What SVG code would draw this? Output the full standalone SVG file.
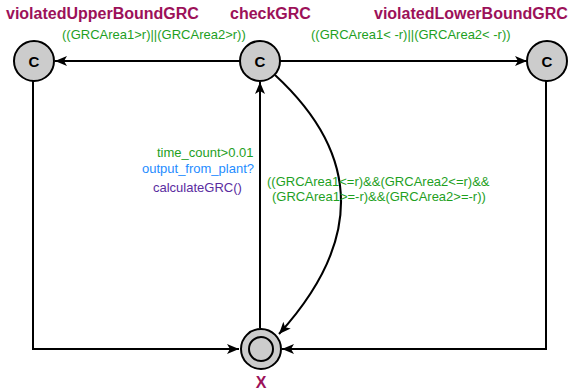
<svg xmlns="http://www.w3.org/2000/svg" width="569" height="390" viewBox="0 0 569 390">
  <style>
    .loc { fill: #cccccc; stroke: #000; stroke-width: 2; }
    .lbl { font-family: "Liberation Sans", Arial, sans-serif; font-weight: bold; font-size: 15px; fill: #000; text-anchor: middle; }
    .name { font-family: "Liberation Sans", Arial, sans-serif; font-weight: bold; font-size: 16px; fill: #9c1159; }
    .edge { fill: none; stroke: #000; stroke-width: 2; }
    .guard { font-family: "Liberation Sans", Arial, sans-serif; font-size: 13px; fill: #1ea01e; }
    .sync { font-family: "Liberation Sans", Arial, sans-serif; font-size: 13px; fill: #1e8cff; }
    .upd { font-family: "Liberation Sans", Arial, sans-serif; font-size: 13px; fill: #5a2ca0; }
  </style>
  <defs>
    <marker id="arrow" markerUnits="userSpaceOnUse" markerWidth="14" markerHeight="12" refX="12" refY="5" orient="auto">
      <path d="M0,0 L12,5 L0,10 L3,5 Z" fill="#000"/>
    </marker>
  </defs>
  <rect width="569" height="390" fill="#fff"/>

  <!-- transitions -->
  <g id="edges">
    <path class="edge" d="M240,61 L55,61" marker-end="url(#arrow)"/>
    <path class="edge" d="M280,61 L527,61" marker-end="url(#arrow)"/>
    <path class="edge" d="M260,328 L260,82" marker-end="url(#arrow)"/>
    <path class="edge" d="M275,75 Q405,195 279,334" marker-end="url(#arrow)"/>
    <path class="edge" d="M33,81 L33,349 L239,349" marker-end="url(#arrow)"/>
    <path class="edge" d="M546,81 L546,349 L282,349" marker-end="url(#arrow)"/>

    <text class="guard" x="62" y="39">((GRCArea1&gt;r)||(GRCArea2&gt;r))</text>
    <text class="guard" x="311" y="39">((GRCArea1&lt; -r)||(GRCArea2&lt; -r))</text>
    <text class="guard" x="157" y="157">time_count&gt;0.01</text>
    <text class="sync" x="142" y="173">output_from_plant?</text>
    <text class="upd" x="153" y="192">calculateGRC()</text>
    <text class="guard" x="267" y="186">((GRCArea1&lt;=r)&amp;&amp;(GRCArea2&lt;=r)&amp;&amp;</text>
    <text class="guard" x="272" y="201">(GRCArea1&gt;=-r)&amp;&amp;(GRCArea2&gt;=-r))</text>
  </g>

  <!-- locations -->
  <g id="violatedUpperBoundGRC">
    <circle class="loc" cx="34" cy="61" r="20"/>
    <text class="lbl" x="34" y="67">C</text>
    <text class="name" x="6" y="19">violatedUpperBoundGRC</text>
  </g>
  <g id="checkGRC">
    <circle class="loc" cx="260" cy="61" r="20"/>
    <text class="lbl" x="260" y="67">C</text>
    <text class="name" x="230" y="19">checkGRC</text>
  </g>
  <g id="violatedLowerBoundGRC">
    <circle class="loc" cx="547" cy="61" r="20"/>
    <text class="lbl" x="547" y="67">C</text>
    <text class="name" x="374" y="19">violatedLowerBoundGRC</text>
  </g>
  <g id="X">
    <circle class="loc" cx="261" cy="349" r="20"/>
    <circle class="loc" cx="261" cy="349" r="12"/>
    <text class="name" x="261" y="388" text-anchor="middle">X</text>
  </g>
</svg>
